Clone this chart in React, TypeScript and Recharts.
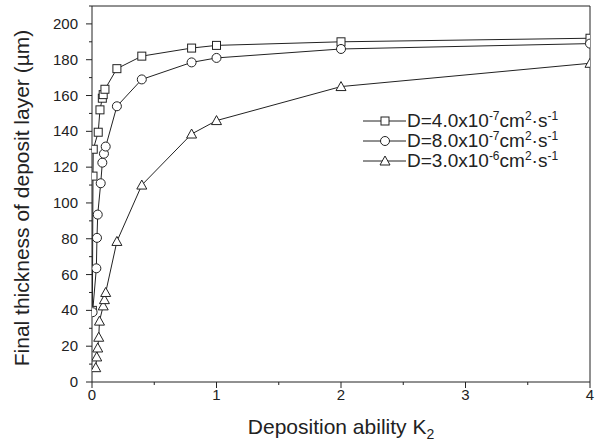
import React from 'react';
import { Label, Legend, Line, LineChart, XAxis, YAxis } from 'recharts';

// Deposition ability K2 vs final deposit thickness (um), one pair of arrays per D value
const sqK = [0.003, 0.008, 0.01, 0.05, 0.064, 0.083, 0.09, 0.104, 0.2, 0.4, 0.8, 1, 2, 4];
const sqThick = [40, 115, 130, 139.5, 152, 158.5, 160.5, 163.5, 175, 182, 186.5, 188, 190, 192];

const ciK = [0.005, 0.035, 0.04, 0.046, 0.07, 0.083, 0.096, 0.11, 0.2, 0.4, 0.8, 1, 2, 4];
const ciThick = [39, 63.5, 80.5, 93.5, 111, 122.5, 127.5, 131.5, 154, 169, 178.5, 181, 186, 189];

const trK = [0.03, 0.038, 0.046, 0.054, 0.06, 0.09, 0.1, 0.11, 0.2, 0.4, 0.8, 1, 2, 4];
const trThick = [8, 14, 19, 25, 34, 42.5, 46, 50, 78.5, 110, 138.5, 146, 165, 178];

const xTicks = [0, 0.5, 1, 1.5, 2, 2.5, 3, 3.5, 4];
const yTicks = [0, 10, 20, 30, 40, 50, 60, 70, 80, 90, 100, 110, 120, 130, 140, 150, 160, 170, 180, 190, 200, 210];

const seriesNames = ['4.0x10', '8.0x10', '3.0x10'];
const seriesExps = ['-7', '-7', '-6'];

const INK = '#222';
const FONT = '"Liberation Sans", Arial, sans-serif';

const toRows = (ks: number[], vs: number[]) => ks.map((k, i) => ({ k, t: vs[i] }));
const squareData = toRows(sqK, sqThick);
const circleData = toRows(ciK, ciThick);
const triangleData = toRows(trK, trThick);

type Shape = 'square' | 'circle' | 'triangle';

function Marker({ shape, cx, cy }: { shape: Shape; cx: number; cy: number }) {
  const common = { fill: '#fff', stroke: INK, strokeWidth: 1 };
  if (shape === 'square') return <rect x={cx - 4} y={cy - 4} width={8} height={8} {...common} />;
  if (shape === 'circle') return <circle cx={cx} cy={cy} r={4.5} {...common} />;
  return <polygon points={`${cx},${cy - 5} ${cx + 5},${cy + 4} ${cx - 5},${cy + 4}`} {...common} />;
}

const dotFor = (shape: Shape) => (props: any) => {
  if (props.cx == null || props.cy == null) return <g key={props.index} />;
  return <Marker key={props.index} shape={shape} cx={props.cx} cy={props.cy} />;
};

const isMajorX = (v: number) => Number.isInteger(v);
const isMajorY = (v: number) => v % 20 === 0 && v <= 200;

function BottomTick({ x, y, payload }: any) {
  const major = isMajorX(payload.value);
  return (
    <g>
      <line x1={x} x2={x} y1={y} y2={y + (major ? 6 : 3)} stroke={INK} />
      {major && (
        <text x={x} y={y + 18} textAnchor='middle' fontSize={15} fill={INK} fontFamily={FONT}>
          {payload.value}
        </text>
      )}
    </g>
  );
}

function TopTick({ x, y, payload }: any) {
  const major = isMajorX(payload.value);
  return <line x1={x} x2={x} y1={y} y2={y + (major ? 6 : 3)} stroke={INK} />;
}

function LeftTick({ x, y, payload }: any) {
  const major = isMajorY(payload.value);
  return (
    <g>
      <line x1={x} x2={x - (major ? 6 : 3)} y1={y} y2={y} stroke={INK} />
      {major && (
        <text x={x - 14} y={y + 5} textAnchor='end' fontSize={15} fill={INK} fontFamily={FONT}>
          {payload.value}
        </text>
      )}
    </g>
  );
}

function RightTick({ x, y, payload }: any) {
  const major = isMajorY(payload.value);
  return <line x1={x} x2={x - (major ? 6 : 3)} y1={y} y2={y} stroke={INK} />;
}

function LegendBox() {
  const shapes: Shape[] = ['square', 'circle', 'triangle'];
  return (
    <div style={{ fontFamily: FONT, fontSize: 19, color: INK, lineHeight: '20px' }}>
      {shapes.map((shape, i) => (
        <div key={shape} style={{ display: 'flex', alignItems: 'center', height: 20 }}>
          <svg width={43} height={14} style={{ marginRight: 1 }}>
            <line x1={0} x2={43} y1={7} y2={7} stroke={INK} />
            <Marker shape={shape} cx={22} cy={7} />
          </svg>
          <span style={{ whiteSpace: 'nowrap' }}>
            D={seriesNames[i]}
            <sup style={{ fontSize: 12, lineHeight: 0 }}>{seriesExps[i]}</sup>
            cm<sup style={{ fontSize: 12, lineHeight: 0 }}>2</sup>·s
            <sup style={{ fontSize: 12, lineHeight: 0 }}>-1</sup>
          </span>
        </div>
      ))}
    </div>
  );
}

export default function App() {
  return (
    <div style={{ position: 'absolute', left: 0, top: 0, background: '#fff' }}>
      <LineChart width={595} height={446} margin={{ top: 5, right: 4, bottom: 63, left: 91 }}>
        <XAxis
          dataKey='k'
          type='number'
          domain={[0, 4]}
          ticks={xTicks}
          interval={0}
          height={1}
          tickSize={0}
          tickMargin={0}
          tick={<BottomTick />}
          axisLine={{ stroke: INK }}
          tickLine={false}
          allowDataOverflow
        >
          <Label
            content={({ viewBox }: any) => (
              <text
                x={viewBox.x + viewBox.width / 2}
                y={viewBox.y + 52}
                textAnchor='middle'
                fontSize={21}
                fill={INK}
                fontFamily={FONT}
              >
                Deposition ability K
                <tspan fontSize={14} dy={5}>2</tspan>
              </text>
            )}
          />
        </XAxis>
        <XAxis
          xAxisId='top'
          orientation='top'
          dataKey='k'
          type='number'
          domain={[0, 4]}
          ticks={xTicks}
          interval={0}
          height={1}
          tickSize={0}
          tickMargin={0}
          tick={<TopTick />}
          axisLine={{ stroke: INK }}
          tickLine={false}
        />
        <YAxis
          type='number'
          domain={[0, 210]}
          ticks={yTicks}
          interval={0}
          width={1}
          tickSize={0}
          tickMargin={0}
          tick={<LeftTick />}
          axisLine={{ stroke: INK }}
          tickLine={false}
          allowDataOverflow
        >
          <Label
            content={({ viewBox }: any) => {
              const cx = viewBox.x - 70;
              const cy = viewBox.y + viewBox.height / 2 + 4;
              return (
                <text
                  x={cx}
                  y={cy}
                  textAnchor='middle'
                  fontSize={21}
                  fill={INK}
                  fontFamily={FONT}
                  transform={`rotate(-90 ${cx} ${cy})`}
                  dominantBaseline='central'
                >
                  Final thickness of deposit layer (µm)
                </text>
              );
            }}
          />
        </YAxis>
        <YAxis
          yAxisId='right'
          orientation='right'
          type='number'
          domain={[0, 210]}
          ticks={yTicks}
          interval={0}
          width={1}
          tickSize={0}
          tickMargin={0}
          tick={<RightTick />}
          axisLine={{ stroke: INK }}
          tickLine={false}
        />
        <Line
          data={squareData}
          dataKey='t'
          stroke={INK}
          strokeWidth={1}
          dot={dotFor('square')}
          isAnimationActive={false}
        />
        <Line
          data={circleData}
          dataKey='t'
          stroke={INK}
          strokeWidth={1}
          dot={dotFor('circle')}
          isAnimationActive={false}
        />
        <Line
          data={triangleData}
          dataKey='t'
          stroke={INK}
          strokeWidth={1}
          dot={dotFor('triangle')}
          isAnimationActive={false}
        />
        <Legend
          layout='horizontal'
          verticalAlign='middle'
          align='center'
          content={<LegendBox />}
          wrapperStyle={{ position: 'absolute', left: 363, top: 111, width: 'auto' }}
        />
      </LineChart>
    </div>
  );
}
